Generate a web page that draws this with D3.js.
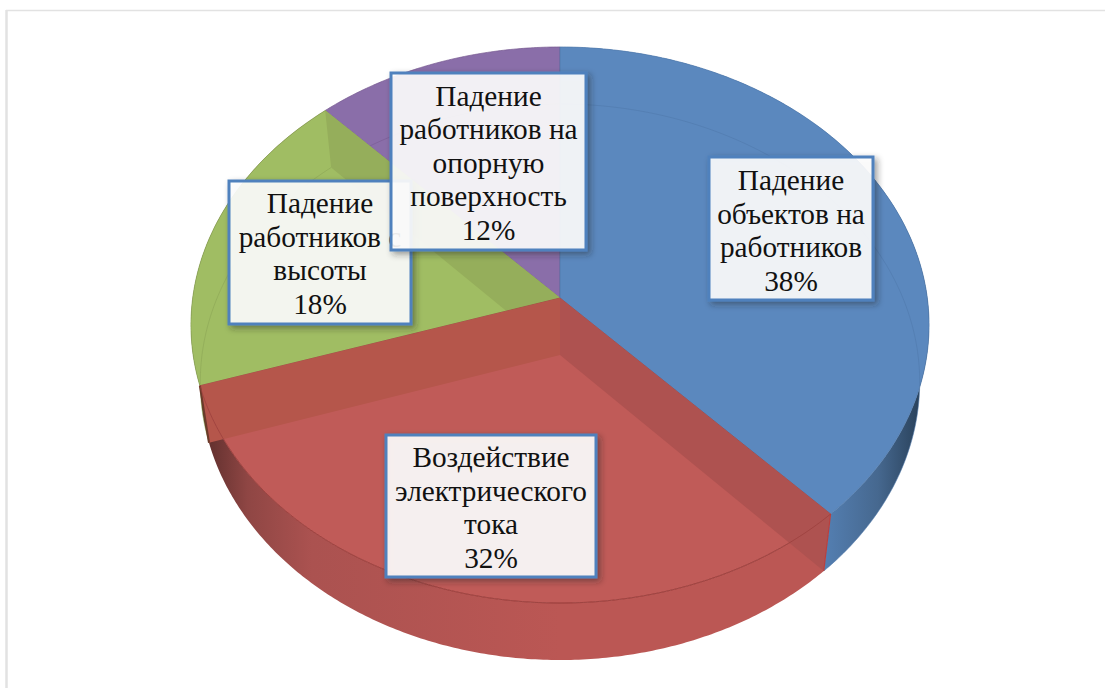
<!DOCTYPE html>
<html>
<head>
<meta charset="utf-8">
<script src="https://cdn.jsdelivr.net/npm/d3@7"></script>
<style>
  html, body { margin: 0; padding: 0; background: #fff; }
  svg { display: block; }
</style>
</head>
<body>
<div id="chart"></div>
<script>
// chart values, clockwise from 12 o'clock
var categories = [
  ["Падение", "объектов на", "работников"],
  ["Воздействие", "электрического", "тока"],
  ["Падение", "работников с", "высоты"],
  ["Падение", "работников на", "опорную", "поверхность"]
];
var shares = [38, 32, 18, 12];

var topColors = ["#5b88be", "#c05b58", "#a0bd63", "#8a6ea9"];
var wallColors = ["#5b88be", "#ae5250", "#95ae5b", "#8a6ea9"];
var rimColors = ["#4f78aa", "#9c403e", "#8aa455", "#76588f"];

// label boxes: left, top, right, bottom, first baseline. drawn in this order
var labelBoxes = [
  [709, 157, 873, 300, 190],
  [386, 435, 596, 577, 467],
  [229, 181, 411, 324, 213],
  [391, 73, 586, 250, 105.5]
];
var line_height = 33.6;

var chart_width = 1105, chart_height = 688;

// the disc is drawn in perspective, the near side is bigger
var depth = 0.0971;
var top_plane = { cx: 560, cy: 298, a: 367.3, b: 275.4 };
var floor_plane = { cx: 560, cy: 355, a: 358, b: 275.4 };

function project(plane, angle) {
  var u = Math.sin(angle), v = -Math.cos(angle);
  var w = 1 - depth * v;
  return [plane.cx + plane.a * u / w, plane.cy + plane.b * v / w];
}

function rim(plane, a0, a1) {
  var n = Math.ceil(Math.abs(a1 - a0) / 0.01);
  return d3.range(n + 1).map(function(i) {
    return project(plane, a0 + (a1 - a0) * i / n);
  });
}

var openLine = d3.line();
var closedLine = d3.line().curve(d3.curveLinearClosed);

var slices = d3.pie().sort(null).startAngle(0).endAngle(2 * Math.PI)(shares);

var svg = d3.select('#chart')
  .append('svg')
  .attr('width', chart_width)
  .attr('height', chart_height);

var defs = svg.append('defs');

// side wall shading
function sideGradient(id, x1, x2, stops) {
  var g = defs.append('linearGradient')
    .attr('id', id)
    .attr('gradientUnits', 'userSpaceOnUse')
    .attr('x1', x1).attr('x2', x2)
    .attr('y1', 0).attr('y2', 0);
  stops.forEach(function(s) {
    g.append('stop').attr('offset', s[0]).attr('stop-color', s[1]);
  });
}
sideGradient('side0', 690, 925, [[0, '#5b88be'], [0.55, '#5581b5'], [0.8, '#46688f'], [1, '#263d55']]);
sideGradient('side1', 205, 560, [[0, '#5f2f2d'], [0.12, '#8f4644'], [0.3, '#ab5250'], [1, '#bb5754']]);
sideGradient('side2', 195, 225, [[0, '#4a4a22'], [1, '#5f3a28']]);

var shadow = defs.append('filter')
  .attr('id', 'box-shadow')
  .attr('x', '-10%').attr('y', '-10%')
  .attr('width', '125%').attr('height', '125%');
shadow.append('feDropShadow')
  .attr('dx', 3).attr('dy', 3)
  .attr('stdDeviation', 3)
  .attr('flood-color', '#222')
  .attr('flood-opacity', 0.45);

// page frame, only top and left are there
svg.append('line')
  .attr('x1', 6).attr('x2', chart_width)
  .attr('y1', 10.5).attr('y2', 10.5)
  .attr('stroke', '#e2e2e2').attr('stroke-width', 1.5);
svg.append('line')
  .attr('x1', 6.5).attr('x2', 6.5)
  .attr('y1', 10).attr('y2', chart_height)
  .attr('stroke', '#e2e2e2').attr('stroke-width', 2.5);

// outer side of the slices
svg.selectAll('path.side')
  .data(slices.slice(0, 3))
  .enter()
  .append('path')
  .attr('class', 'side')
  .attr('d', function(d) {
    return closedLine(rim(top_plane, d.startAngle, d.endAngle)
      .concat(rim(floor_plane, d.endAngle, d.startAngle)));
  })
  .attr('fill', function(d, i) { return 'url(#side' + i + ')'; });

// cut face on the starting edge of a slice, seen through the slice above it
function cutFace(angle) {
  return [
    project(top_plane, angle),
    [top_plane.cx, top_plane.cy],
    [floor_plane.cx, floor_plane.cy],
    project(floor_plane, angle)
  ];
}

function wedge(plane, d) {
  return [[plane.cx, plane.cy]].concat(rim(plane, d.startAngle, d.endAngle));
}

function drawSlice(i) {
  var d = slices[i];
  svg.append('path')
    .attr('d', closedLine(wedge(top_plane, d)))
    .attr('fill', topColors[i])
    .attr('stroke', rimColors[i])
    .attr('stroke-width', 0.7);
  // far rim of the floor shows faintly through the top
  svg.append('path')
    .attr('d', openLine(rim(floor_plane, d.startAngle, d.endAngle)))
    .attr('fill', 'none')
    .attr('stroke', rimColors[i])
    .attr('stroke-width', 0.8)
    .attr('stroke-opacity', i == 1 ? 0 : 0.7);
}

// back to front: purple, green, blue, red
drawSlice(3);
drawSlice(2);
svg.append('path')
  .attr('d', closedLine(cutFace(slices[3].startAngle)))
  .attr('fill', wallColors[2]);

drawSlice(0);
drawSlice(1);

// red slice has its two cut faces visible
svg.append('path')
  .attr('d', closedLine(cutFace(slices[1].endAngle)))
  .attr('fill', '#b5564b');
svg.append('path')
  .attr('d', closedLine(cutFace(slices[1].startAngle)))
  .attr('fill', wallColors[1]);

// outer edges of the cut faces
svg.append('path')
  .attr('d', openLine([project(top_plane, slices[1].endAngle), project(floor_plane, slices[1].endAngle)]))
  .attr('stroke', '#6b3a2a')
  .attr('stroke-width', 2);
svg.append('path')
  .attr('d', openLine([project(top_plane, slices[1].startAngle), project(floor_plane, slices[1].startAngle)]))
  .attr('stroke', '#b8403f')
  .attr('stroke-width', 1.2);

// near rim of the red top over the cut face
svg.append('path')
  .attr('d', openLine(rim(top_plane, slices[1].startAngle, slices[1].endAngle)))
  .attr('fill', 'none')
  .attr('stroke', rimColors[1])
  .attr('stroke-width', 0.8);

// labels
var labels = svg.selectAll('g.label')
  .data(labelBoxes)
  .enter()
  .append('g')
  .attr('class', 'label');

labels.append('rect')
  .attr('x', function(b) { return b[0]; })
  .attr('y', function(b) { return b[1]; })
  .attr('width', function(b) { return b[2] - b[0]; })
  .attr('height', function(b) { return b[3] - b[1]; })
  .attr('fill', '#fff')
  .attr('fill-opacity', 0.885)
  .attr('stroke', '#4f81bd')
  .attr('stroke-width', 3)
  .attr('filter', 'url(#box-shadow)');

labels.each(function(b, i) {
  var rows = categories[i].concat([shares[i] + '%']);
  d3.select(this).selectAll('text')
    .data(rows)
    .enter()
    .append('text')
    .text(function(t) { return t; })
    .attr('x', (b[0] + b[2]) / 2)
    .attr('y', function(t, r) { return b[4] + r * line_height; })
    .attr('text-anchor', 'middle')
    .attr('font-family', '"Liberation Serif", serif')
    .attr('font-size', 29.3)
    .attr('fill', '#111');
});
</script>
</body>
</html>
